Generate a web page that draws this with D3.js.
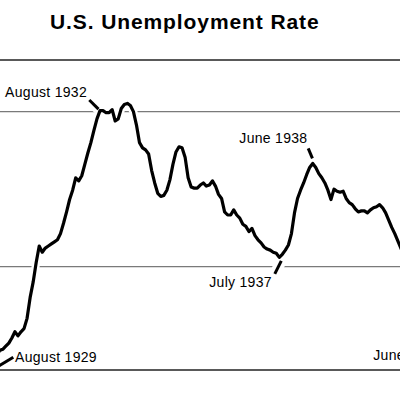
<!DOCTYPE html>
<html><head><meta charset="utf-8">
<script src="https://cdn.jsdelivr.net/npm/d3@7"></script>
<style>html,body{margin:0;padding:0;background:#fff;overflow:hidden}</style>
</head><body>
<svg id="chart" width="400" height="400"></svg>
<script>
// ---- data ----
const title = "U.S. Unemployment Rate";
const startMonth = "1929-08";
// monthly unemployment rate (%), Aug 1929 onward
const unemploymentRate = [
  0.3, 0.8, 1.4, 1.9, 2.0, 2.3, 2.6, 3.1, 3.7, 3.3, 3.7, 4.0,
  5.0, 7.0, 8.5, 10.4, 12.0, 11.4, 11.8, 12.0, 12.2, 12.4, 12.6, 13.2,
  14.2, 15.3, 16.5, 17.4, 18.6, 18.3, 18.8, 19.9, 21.0, 22.0, 23.2, 24.3,
  25.1, 25.1, 24.9, 24.9, 25.2, 24.1, 24.3, 25.3, 25.7, 25.8, 25.6, 25.0,
  23.7, 22.0, 21.5, 21.3, 20.9, 19.3, 18.1, 17.1, 16.8, 16.9, 17.4, 18.4,
  19.9, 21.1, 21.6, 21.5, 20.6, 18.6, 17.7, 17.6, 17.6, 17.9, 18.1, 17.8,
  17.9, 18.3, 17.8, 17.0, 16.6, 15.3, 15.0, 15.0, 15.5, 15.0, 14.7, 14.1,
  13.9, 13.4, 13.7, 13.0, 12.6, 12.3, 11.9, 11.7, 11.6, 11.4, 11.3, 10.9,
  11.2, 11.6, 12.1, 13.2, 15.2, 16.6, 17.4, 18.1, 18.9, 19.6, 20.0, 19.6,
  19.0, 18.6, 18.1, 17.4, 16.5, 17.5, 17.3, 17.2, 17.3, 16.6, 16.2, 16.0,
  15.6, 15.3, 15.4, 15.4, 15.2, 15.5, 15.7, 15.8, 16.0, 15.7, 15.2, 14.5,
  13.8, 13.2, 12.5, 11.8, 11.1
];
const gridValues = [10, 25];
const annotationLabels = ["August 1929", "August 1932", "July 1937", "June 1938"];
const annotationMonths = ["1929-08", "1932-08", "1937-07", "1938-06"];
const offLabel = "June 1943";

// ---- drawing ----
const parseMonth = d3.timeParse("%Y-%m");
const start = parseMonth(startMonth);
const monthIndex = d => d3.timeMonth.count(start, d);
const data = unemploymentRate.map((v, i) => ({ date: d3.timeMonth.offset(start, i), value: v }));

const svg = d3.select("#chart");
const x = d3.scaleLinear().domain([0, 36]).range([-9.4, 100]);
const y = d3.scaleLinear().domain([0, 30]).range([370, 60]);

svg.append("rect").attr("width", 400).attr("height", 400).attr("fill", "#fff");

svg.append("text").text(title)
  .attr("x", 50).attr("y", 28.5)
  .attr("font-family", "Liberation Sans, Arial, sans-serif")
  .attr("font-weight", "bold").attr("font-size", 21)
  .attr("letter-spacing", 0.9).attr("fill", "#000");

// gridlines
svg.selectAll("line.grid").data(gridValues).enter().append("line")
  .attr("class", "grid")
  .attr("x1", 0).attr("x2", 400)
  .attr("y1", d => y(d)).attr("y2", d => y(d))
  .attr("stroke", "#7a7a7a").attr("stroke-width", 1.2);

const line = d3.line()
  .x(d => x(monthIndex(d.date)))
  .y(d => y(d.value))
  .curve(d3.curveLinear);

// annotation geometry (leader offsets relative to the point)
const leaderOffsets = [
  [[3.4, 2], [22.7, -9.6]],
  [[-10.7, -10.6], [-1.5, -1.5]],
  [[2, 3.5], [-4.5, 16.5]],
  [[-4.5, -15], [-0.3, -5]]
];
const labelOffsets = [
  { dx: 24.4, dy: -5.2, anchor: "start" },
  { dx: -13, dy: -13.6, anchor: "end" },
  { dx: -7.4, dy: 29.3, anchor: "end" },
  { dx: -5.3, dy: -20.6, anchor: "end" }
];
const ann = annotationMonths.map((m, i) => {
  const d = parseMonth(m);
  const idx = monthIndex(d);
  return { label: annotationLabels[i], px: x(idx), py: y(unemploymentRate[idx]), lo: leaderOffsets[i], to: labelOffsets[i] };
});

// halos
svg.append("path").datum(data).attr("d", line)
  .attr("fill", "none").attr("stroke", "#fff").attr("stroke-width", 8)
  .attr("stroke-linejoin", "round");
svg.selectAll("line.halo").data(ann).enter().append("line")
  .attr("class", "halo")
  .attr("x1", d => d.px + d.lo[0][0]).attr("y1", d => d.py + d.lo[0][1])
  .attr("x2", d => d.px + d.lo[1][0]).attr("y2", d => d.py + d.lo[1][1])
  .attr("stroke", "#fff").attr("stroke-width", 11);

// frame lines
svg.append("line").attr("x1", 0).attr("x2", 400).attr("y1", y(30)).attr("y2", y(30))
  .attr("stroke", "#222").attr("stroke-width", 1.6);
svg.append("line").attr("x1", 0).attr("x2", 400).attr("y1", y(0)).attr("y2", y(0))
  .attr("stroke", "#222").attr("stroke-width", 1.6);

// data line
svg.append("path").datum(data).attr("d", line)
  .attr("fill", "none").attr("stroke", "#000").attr("stroke-width", 3.2)
  .attr("stroke-linejoin", "round").attr("stroke-linecap", "round");

// leaders
svg.selectAll("line.leader").data(ann).enter().append("line")
  .attr("class", "leader")
  .attr("x1", d => d.px + d.lo[0][0]).attr("y1", d => d.py + d.lo[0][1])
  .attr("x2", d => d.px + d.lo[1][0]).attr("y2", d => d.py + d.lo[1][1])
  .attr("stroke", "#000").attr("stroke-width", 3);

// labels
const font = "Liberation Sans, Arial, sans-serif";
svg.selectAll("text.ann").data(ann).enter().append("text")
  .attr("class", "ann")
  .attr("x", d => d.px + d.to.dx).attr("y", d => d.py + d.to.dy)
  .attr("text-anchor", d => d.to.anchor)
  .attr("font-family", font).attr("font-size", 14).attr("letter-spacing", 0.3)
  .attr("fill", "#000")
  .text(d => d.label);

// label of a point beyond the right edge (cut off, as in the reference)
svg.append("text").attr("x", 373.3).attr("y", 360)
  .attr("font-family", font).attr("font-size", 14).attr("letter-spacing", 0.3)
  .attr("fill", "#000").text(offLabel);
</script>
</body></html>
